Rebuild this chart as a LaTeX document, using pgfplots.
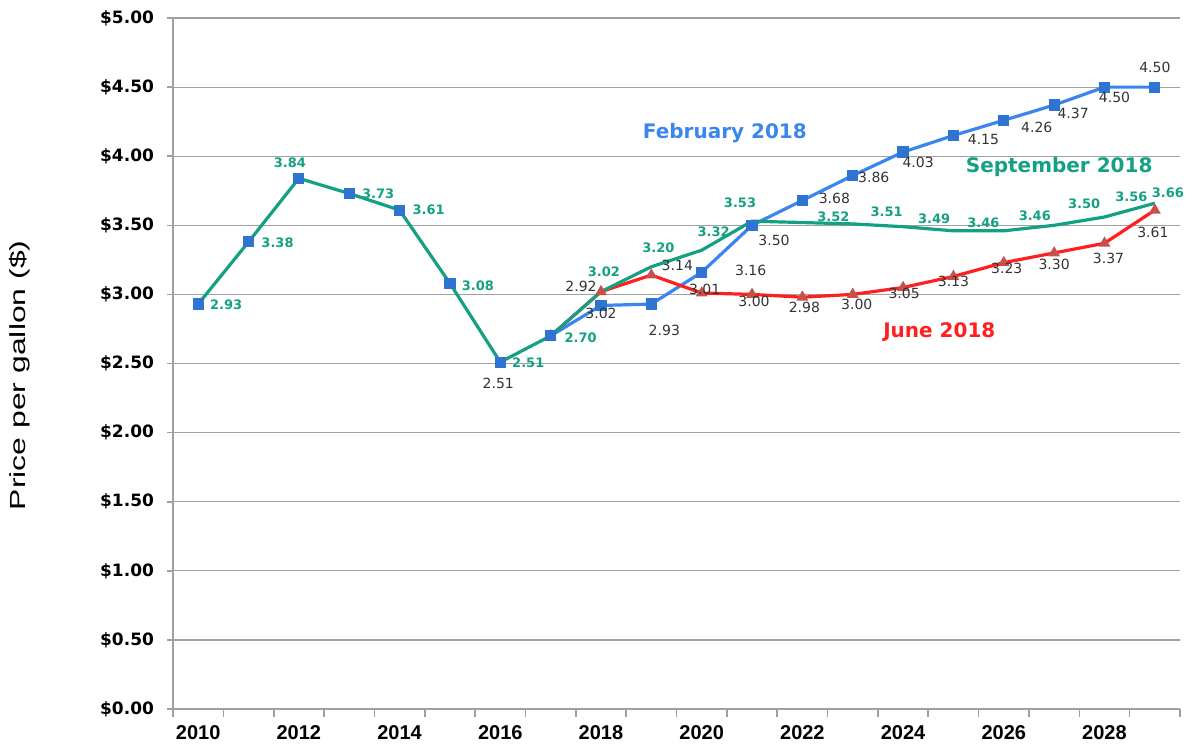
\documentclass[border=0pt]{standalone}
\usepackage{fontspec}
\setmainfont{Liberation Sans}
\newfontfamily\dvs{DejaVu Sans}
\usepackage{graphicx}
\usepackage{pgfplots}
\usepackage{pgfplotstable}
\pgfplotsset{compat=1.18}

\definecolor{febblue}{HTML}{3A86EE}
\definecolor{febmark}{HTML}{2F74D0}
\definecolor{septeal}{HTML}{14A083}
\definecolor{junred}{HTML}{FF1F1F}
\definecolor{junmark}{HTML}{C8504A}
\definecolor{gridgray}{HTML}{A0A0A0}
\definecolor{labtxt}{HTML}{333333}

% history, 2010-2017 (dx, dy = label offsets in pt)
\pgfplotstableread{
x    y    dx    dy
2010 2.93 14   -0.5
2011 3.38 14.5 -0.5
2012 3.84 -4.5  8
2013 3.73 14.5  0
2014 3.61 14.5  0
2015 3.08 14   -1
2016 2.51 14   -0.5
2017 2.70 15   -1
}\hist

% February 2018 outlook (first row only carries the black 2.51 label)
\pgfplotstableread{
x    y    dx    dy
2016 2.51 -1  -10.5
2017 2.70 0     0
2018 2.92 -10   9.5
2019 2.93 6.5 -13
2020 3.16 24.5  1
2021 3.50 11   -7.5
2022 3.68 16    1
2023 3.86 10.5 -1
2024 4.03 7.5  -5
2025 4.15 15   -2
2026 4.26 16.5 -3.5
2027 4.37 9.5  -4
2028 4.50 5    -5
2029 4.50 0    10
}\feb

% June 2018 outlook
\pgfplotstableread{
x    y    dx    dy
2017 2.70 0     0
2018 3.02 0   -11
2019 3.14 13    5
2020 3.01 1.5   2
2021 3.00 1   -3.5
2022 2.98 1    -5
2023 3.00 2    -5
2024 3.05 0.5  -3
2025 3.13 0   -2.5
2026 3.23 1.5  -3
2027 3.30 0   -5.5
2028 3.37 2   -7.5
2029 3.61 -1  -11
}\jun

% September 2018 outlook
\pgfplotstableread{
x    y    dx    dy
2017 2.70 0     0
2018 3.02 1.5  10
2019 3.20 3.5   9.5
2020 3.32 6     9
2021 3.53 -6    9
2022 3.52 15.5  3
2023 3.51 17    6
2024 3.49 15.5  4
2025 3.46 15    4
2026 3.46 15.5  7.5
2027 3.50 15   11
2028 3.56 13.5 10
2029 3.66 6.5   5
}\sep

\tikzset{
  tealtext/.style={text=septeal, font=\dvs\bfseries\fontsize{6.5}{7}\selectfont},
  blacktext/.style={text=labtxt, font=\dvs\fontsize{7}{8}\selectfont},
}
\pgfplotsset{
  vlabels/.style={draw=none, mark=none, forget plot,
    point meta=y,
    nodes near coords={\pgfmathprintnumber[fixed,fixed zerofill,precision=2]{\pgfplotspointmeta}},
    visualization depends on={\thisrow{dx} \as \dx},
    visualization depends on={\thisrow{dy} \as \dy},
    nodes near coords style={anchor=center, inner sep=0pt, xshift=\dx pt, yshift=\dy pt, #1}},
}

\begin{document}
\begin{tikzpicture}
\begin{axis}[
  scale only axis, width=503.5pt, height=345.5pt,
  xmin=2009.5, xmax=2029.5, ymin=0, ymax=5,
  axis x line*=bottom, axis y line*=left,
  axis line style={gridgray, line width=1pt},
  xtick={2010,2012,2014,2016,2018,2020,2022,2024,2026,2028},
  xticklabels={2010,2012,2014,2016,2018,2020,2022,2024,2026,2028},
  x tick label style={font=\bfseries\fontsize{10}{11}\selectfont, yshift=-1.5pt},
  major x tick style={draw=none},
  minor xtick={2009.5,2010.5,...,2029.5},
  minor tick length=4pt,
  ytick={0,0.5,1,1.5,2,2.5,3,3.5,4,4.5,5},
  yticklabel={\$\pgfmathprintnumber[fixed,fixed zerofill,precision=2]{\tick}},
  y tick label style={font=\dvs\bfseries\fontsize{8.5}{10}\selectfont, xshift=-3pt},
  /pgf/number format/assume math mode=true,
  ymajorgrids, grid style={gridgray, line width=0.6pt},
  tick align=outside, major tick length=3pt,
  tick style={gridgray, line width=0.8pt},
  ylabel={\scalebox{1.14}[0.78]{Price per gallon (\$)}},
  ylabel style={font=\fontsize{14}{16}\selectfont, at={(axis description cs:-0.152,0.483)}, anchor=center},
  clip=false,
]
% lines
\addplot[febblue, line width=1.6pt, mark=square*, mark size=2pt,
  mark options={fill=febmark, draw=febmark}, skip coords between index={0}{1}]
  table[x=x, y=y] {\feb};
\addplot[junred, line width=1.6pt, mark=triangle*, mark size=1.8pt,
  mark options={fill=junmark, draw=junmark}] table[x=x, y=y] {\jun};
\addplot[septeal, line width=1.6pt, mark=none] table[x=x, y=y] {\sep};
\addplot[septeal, line width=1.6pt, mark=square*, mark size=2pt,
  mark options={fill=febmark, draw=febmark}] table[x=x, y=y] {\hist};
% value labels
\addplot[vlabels=tealtext] table[x=x, y=y] {\hist};
\addplot[vlabels=blacktext, skip coords between index={1}{2}] table[x=x, y=y] {\feb};
\addplot[vlabels=blacktext, skip coords between index={0}{1}] table[x=x, y=y] {\jun};
\addplot[vlabels=tealtext, skip coords between index={0}{1}] table[x=x, y=y] {\sep};
% series names
\node[text=febblue, font=\dvs\bfseries\fontsize{10}{12}\selectfont] at (axis cs:2020.46,4.168) {February 2018};
\node[text=septeal, font=\dvs\bfseries\fontsize{10}{12}\selectfont] at (axis cs:2027.10,3.92) {September 2018};
\node[text=junred, font=\dvs\bfseries\fontsize{10}{12}\selectfont] at (axis cs:2024.72,2.728) {June 2018};
\end{axis}
\pgfresetboundingbox
\path (-86.5pt,-18.5pt) rectangle (506.5pt,354.5pt);
\end{tikzpicture}
\end{document}
